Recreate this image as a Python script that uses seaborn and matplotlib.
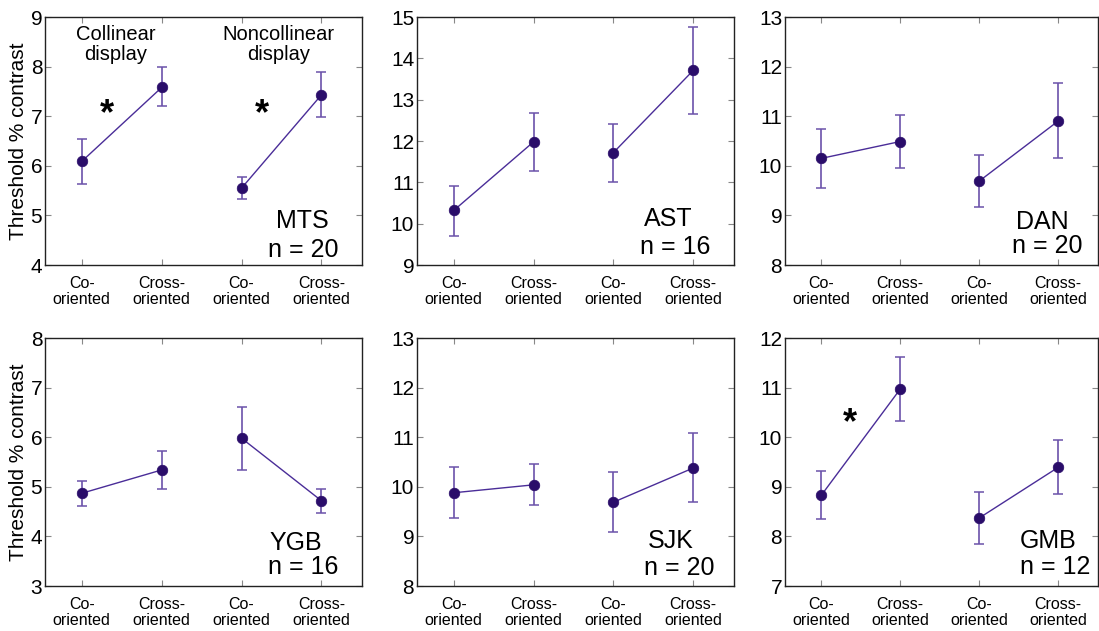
import numpy as np
import pandas as pd
import matplotlib
matplotlib.use("Agg")
import matplotlib.pyplot as plt
import seaborn as sns

sns.set_style("white")
plt.rcParams['font.family'] = ['Liberation Sans', 'DejaVu Sans']
plt.rcParams['text.color'] = 'black'
plt.rcParams['axes.labelcolor'] = 'black'
plt.rcParams['xtick.color'] = 'black'
plt.rcParams['ytick.color'] = 'black'

# ---- data ----
conditions = ["Co-\noriented", "Cross-\noriented", "Co-\noriented", "Cross-\noriented"]
displays = ["Collinear\ndisplay", "Noncollinear\ndisplay"]

subjects = ["MTS", "AST", "DAN", "YGB", "SJK", "GMB"]
n_trials = [20, 16, 20, 16, 20, 12]
y_limits = [(4, 9), (9, 15), (8, 13), (3, 8), (8, 13), (7, 12)]

mts_mean = [6.09, 7.58, 5.55, 7.43]
mts_low = [5.64, 7.20, 5.34, 6.98]
mts_high = [6.55, 7.99, 5.77, 7.89]

ast_mean = [10.32, 11.98, 11.72, 13.71]
ast_low = [9.71, 11.28, 11.02, 12.66]
ast_high = [10.90, 12.68, 12.41, 14.75]

dan_mean = [10.15, 10.49, 9.69, 10.90]
dan_low = [9.56, 9.95, 9.17, 10.15]
dan_high = [10.74, 11.03, 10.22, 11.66]

ygb_mean = [4.87, 5.34, 5.98, 4.72]
ygb_low = [4.61, 4.95, 5.34, 4.48]
ygb_high = [5.12, 5.73, 6.61, 4.95]

sjk_mean = [9.88, 10.04, 9.69, 10.38]
sjk_low = [9.37, 9.63, 9.09, 9.69]
sjk_high = [10.39, 10.46, 10.30, 11.08]

gmb_mean = [8.83, 10.97, 8.37, 9.39]
gmb_low = [8.36, 10.32, 7.84, 8.85]
gmb_high = [9.32, 11.62, 8.90, 9.94]

means = [mts_mean, ast_mean, dan_mean, ygb_mean, sjk_mean, gmb_mean]
lows = [mts_low, ast_low, dan_low, ygb_low, sjk_low, gmb_low]
highs = [mts_high, ast_high, dan_high, ygb_high, sjk_high, gmb_high]

# significance stars: (subject index, x, y)
star_subject = [0, 0, 5]
star_x = [1.31, 3.26, 1.36]
star_y = [7.04, 7.04, 10.28]

# label positions (axes fraction) for subject name / n
name_pos = [(0.81, 0.178), (0.794, 0.186), (0.82, 0.173), (0.79, 0.173), (0.80, 0.18), (0.84, 0.18)]
n_pos = [(0.815, 0.062), (0.816, 0.073), (0.837, 0.076), (0.815, 0.077), (0.826, 0.073), (0.863, 0.077)]

marker_color = "#2a0d6a"
line_color = "#4a2d98"
err_color = "#6b52aa"

fig = plt.figure(figsize=(10.99, 6.31), dpi=100)
lefts = [0.041, 0.3794, 0.7143]
bottoms = [0.58, 0.0713]
w, h = 0.2885, 0.393

xs = [1, 2, 3, 4]
for i, subj in enumerate(subjects):
    r, c = divmod(i, 3)
    ax = fig.add_axes([lefts[c], bottoms[r], w if c < 2 else 0.285, h])
    df = pd.DataFrame({"x": xs, "y": means[i], "pair": ["a", "a", "b", "b"]})
    m = np.array(means[i]); lo = np.array(lows[i]); hi = np.array(highs[i])
    ax.errorbar(xs, m, yerr=[m - lo, hi - m], fmt="none", ecolor=err_color,
                elinewidth=1.2, capsize=3.5, capthick=1.1, zorder=2)
    sns.lineplot(data=df, x="x", y="y", hue="pair", palette=[line_color, line_color],
                 legend=False, ax=ax, linewidth=1.0, zorder=3, estimator=None)
    sns.scatterplot(data=df, x="x", y="y", color=marker_color, s=58, marker="o",
                    edgecolor=marker_color, linewidth=0.5, ax=ax, zorder=4, legend=False)
    ax.set_xlim(0.54, 4.51)
    ax.set_ylim(*y_limits[i])
    ax.set_xticks(xs)
    ax.set_xticklabels(conditions, fontsize=11.5, linespacing=1.1)
    lo_y, hi_y = y_limits[i]
    ax.set_yticks(np.arange(lo_y, hi_y + 1))
    ax.tick_params(axis="y", labelsize=15, direction="in", length=4, color="#888888",
                   labelcolor="black", right=True, left=True, pad=2, width=0.8)
    ax.tick_params(axis="x", direction="in", length=4, color="#888888", labelcolor="black",
                   top=True, bottom=True, pad=8, width=0.8)
    for s in ax.spines.values():
        s.set_color("#222222")
        s.set_linewidth(1.0)
    ax.set_xlabel("")
    if c == 0:
        ax.set_ylabel("Threshold % contrast", fontsize=15)
        ax.yaxis.set_label_coords(-0.054, 0.5)
    else:
        ax.set_ylabel("")
    ax.text(*name_pos[i], subj, transform=ax.transAxes, ha="center", va="center", fontsize=18)
    ax.text(*n_pos[i], f"n = {n_trials[i]}", transform=ax.transAxes, ha="center", va="center", fontsize=18)
    if i == 0:
        ax.text(1.42, 8.45, displays[0], ha="center", va="center", fontsize=14.5, linespacing=1.1)
        ax.text(3.46, 8.45, displays[1], ha="center", va="center", fontsize=14.5, linespacing=1.1)
    for s_i, sx, sy in zip(star_subject, star_x, star_y):
        if s_i == i:
            ax.text(sx, sy, "*", ha="center", va="center", fontsize=26, fontweight="bold")

fig.savefig("out.png", dpi=100)
